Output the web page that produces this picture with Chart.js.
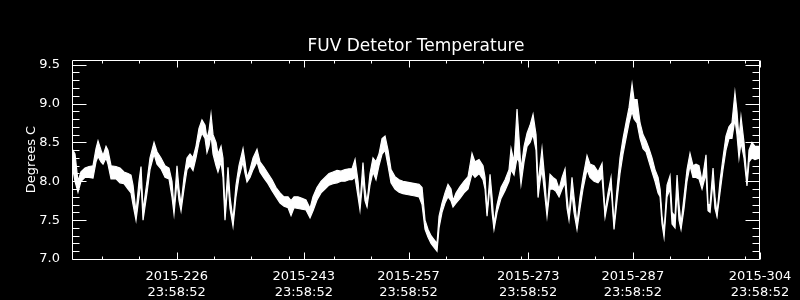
<!DOCTYPE html>
<html>
<head>
<meta charset="utf-8">
<script src="https://cdn.jsdelivr.net/npm/chart.js@4.4.1/dist/chart.umd.min.js"></script>
<style>
  html, body { margin: 0; padding: 0; background: #000; }
  #wrap { width: 800px; height: 300px; position: relative; }
</style>
</head>
<body>
<div id="wrap"><canvas id="fuv"></canvas></div>
<script>
// day of year 2015 (x), detector temperature envelope (deg C)
const days = [
  212.00, 212.40, 212.80, 213.20, 213.74, 214.27, 214.81, 215.21, 215.48, 215.88,
  216.15, 216.55, 216.81, 217.22, 217.88, 218.42, 218.95, 219.49, 219.89, 220.16,
  220.56, 220.96, 221.23, 221.50, 222.03, 222.43, 222.97, 223.37, 223.90, 224.44,
  224.97, 225.37, 225.64, 226.04, 226.31, 226.58, 226.98, 227.38, 227.78, 228.18,
  228.58, 228.98, 229.38, 229.79, 230.05, 230.32, 230.59, 230.86, 231.26, 231.52,
  231.93, 232.19, 232.46, 232.86, 233.13, 233.53, 233.93, 234.33, 234.87, 235.14,
  235.40, 235.80, 236.21, 236.74, 237.14, 237.68, 238.21, 238.75, 239.28, 239.82,
  240.35, 240.89, 241.29, 241.69, 242.22, 242.76, 243.29, 243.83, 244.23, 244.76,
  245.30, 245.83, 246.37, 246.90, 247.44, 247.97, 248.51, 249.04, 249.44, 249.85,
  250.25, 250.51, 250.91, 251.18, 251.45, 251.85, 252.25, 252.65, 253.05, 253.46,
  253.86, 254.26, 254.66, 255.19, 255.73, 256.26, 256.80, 257.33, 257.87, 258.41,
  258.81, 259.21, 259.61, 260.01, 260.41, 260.81, 261.08, 261.48, 261.88, 262.28,
  262.68, 262.95, 263.35, 263.89, 264.42, 264.96, 265.49, 265.89, 266.43, 266.96,
  267.23, 267.50, 267.90, 268.17, 268.43, 268.84, 269.37, 269.91, 270.44, 270.71,
  271.11, 271.51, 271.78, 272.04, 272.45, 272.85, 273.25, 273.65, 274.05, 274.32,
  274.59, 274.85, 275.25, 275.52, 275.92, 276.32, 276.72, 277.13, 277.53, 277.93,
  278.20, 278.46, 278.86, 279.13, 279.53, 279.93, 280.33, 280.87, 281.27, 281.81,
  282.34, 282.88, 283.28, 283.68, 284.08, 284.48, 284.88, 285.28, 285.68, 286.08,
  286.49, 286.89, 287.16, 287.56, 287.96, 288.36, 288.76, 289.16, 289.56, 289.96,
  290.37, 290.64, 290.90, 291.17, 291.57, 291.97, 292.24, 292.64, 292.91, 293.17,
  293.44, 293.84, 294.24, 294.64, 295.04, 295.44, 295.84, 296.25, 296.78, 297.05,
  297.32, 297.72, 297.98, 298.25, 298.65, 299.05, 299.45, 299.85, 300.25, 300.65,
  300.92, 301.19, 301.46, 301.86, 302.26, 302.53, 302.93, 303.33, 304.00
];
const tempHigh = [
  8.42, 8.35, 8.00, 8.12, 8.17, 8.19, 8.20, 8.42, 8.52, 8.40,
  8.33, 8.45, 8.40, 8.20, 8.19, 8.17, 8.12, 8.10, 8.08, 7.95,
  7.60, 8.00, 8.19, 7.62, 8.00, 8.30, 8.50, 8.38, 8.30, 8.20,
  8.17, 8.00, 7.65, 8.20, 7.90, 7.70, 8.05, 8.30, 8.35, 8.30,
  8.45, 8.68, 8.79, 8.72, 8.55, 8.65, 8.86, 8.60, 8.50, 8.35,
  8.45, 8.30, 7.60, 8.18, 7.80, 7.50, 7.95, 8.20, 8.42, 8.25,
  8.05, 8.15, 8.30, 8.41, 8.25, 8.18, 8.10, 8.02, 7.92, 7.85,
  7.80, 7.80, 7.75, 7.80, 7.80, 7.78, 7.76, 7.65, 7.80, 7.92,
  8.00, 8.05, 8.10, 8.12, 8.14, 8.13, 8.15, 8.16, 8.16, 8.28,
  8.00, 7.70, 8.24, 7.90, 7.72, 8.10, 8.30, 8.25, 8.35, 8.55,
  8.58, 8.40, 8.15, 8.06, 8.02, 8.00, 7.99, 7.98, 7.97, 7.96,
  7.92, 7.50, 7.38, 7.30, 7.25, 7.20, 7.55, 7.72, 7.85, 7.96,
  7.90, 7.75, 7.85, 7.93, 8.00, 8.06, 8.36, 8.25, 8.28, 8.20,
  8.05, 7.60, 8.09, 7.80, 7.45, 7.70, 7.92, 8.02, 8.15, 8.42,
  8.25, 8.93, 8.55, 8.15, 8.45, 8.62, 8.72, 8.86, 8.60, 7.95,
  8.20, 8.42, 8.00, 7.60, 8.09, 8.05, 8.02, 7.90, 8.05, 8.16,
  7.80, 7.55, 8.05, 7.80, 7.45, 7.80, 8.05, 8.33, 8.22, 8.20,
  8.12, 8.23, 7.60, 7.85, 8.05, 7.45, 7.90, 8.30, 8.55, 8.75,
  8.95, 9.25, 9.05, 9.05, 8.75, 8.60, 8.52, 8.42, 8.30, 8.15,
  8.05, 7.90, 7.55, 7.35, 7.95, 8.07, 7.60, 7.55, 8.08, 7.70,
  7.45, 7.80, 8.15, 8.36, 8.20, 8.22, 8.20, 8.00, 8.34, 7.70,
  7.70, 8.17, 7.80, 7.58, 8.00, 8.30, 8.58, 8.70, 8.75, 9.14,
  8.90, 8.55, 8.83, 8.50, 8.00, 8.40, 8.50, 8.45, 8.45
];
const tempLow = [
  8.22, 8.00, 7.86, 8.00, 8.05, 8.05, 8.04, 8.25, 8.32, 8.25,
  8.22, 8.30, 8.22, 8.03, 8.03, 7.98, 7.97, 7.90, 7.85, 7.70,
  7.50, 7.80, 8.00, 7.50, 7.85, 8.15, 8.35, 8.22, 8.16, 8.05,
  8.03, 7.80, 7.58, 8.00, 7.75, 7.62, 7.90, 8.15, 8.20, 8.14,
  8.30, 8.50, 8.62, 8.55, 8.37, 8.45, 8.60, 8.35, 8.20, 8.12,
  8.25, 8.05, 7.50, 8.00, 7.65, 7.42, 7.80, 8.05, 8.25, 8.10,
  7.99, 8.05, 8.15, 8.25, 8.12, 8.04, 7.97, 7.88, 7.80, 7.72,
  7.68, 7.66, 7.56, 7.66, 7.65, 7.64, 7.63, 7.53, 7.62, 7.76,
  7.85, 7.90, 7.95, 7.97, 7.98, 8.00, 8.00, 8.02, 8.02, 8.05,
  7.80, 7.63, 8.05, 7.75, 7.67, 7.95, 8.12, 8.02, 8.20, 8.35,
  8.40, 8.20, 7.98, 7.90, 7.86, 7.84, 7.83, 7.82, 7.81, 7.80,
  7.70, 7.38, 7.28, 7.20, 7.15, 7.10, 7.40, 7.60, 7.72, 7.80,
  7.75, 7.67, 7.72, 7.78, 7.85, 7.90, 8.10, 8.05, 8.10, 8.02,
  7.90, 7.55, 7.95, 7.60, 7.38, 7.60, 7.78, 7.88, 8.00, 8.15,
  8.08, 8.30, 8.25, 7.96, 8.25, 8.45, 8.50, 8.60, 8.40, 7.79,
  8.00, 8.15, 7.80, 7.55, 7.90, 7.90, 7.87, 7.80, 7.90, 7.98,
  7.65, 7.50, 7.85, 7.60, 7.38, 7.65, 7.90, 8.15, 8.05, 8.00,
  7.98, 8.05, 7.54, 7.75, 7.95, 7.38, 7.75, 8.10, 8.35, 8.55,
  8.75, 8.90, 8.80, 8.75, 8.55, 8.42, 8.38, 8.25, 8.12, 8.00,
  7.85, 7.80, 7.45, 7.28, 7.80, 7.90, 7.45, 7.40, 7.90, 7.50,
  7.38, 7.65, 8.00, 8.20, 8.05, 8.05, 8.03, 7.90, 8.10, 7.62,
  7.60, 8.00, 7.65, 7.55, 7.85, 8.15, 8.40, 8.55, 8.55, 8.80,
  8.60, 8.30, 8.50, 8.30, 7.94, 8.25, 8.30, 8.28, 8.30
];

// axis ticks
const tickDays = [226, 243, 257, 273, 287, 304];
const tickYear = '2015';
const tickTime = '23:58:52';
const minorDays = [216, 221, 226, 231, 236, 241, 247, 252, 257, 262, 267, 272, 277, 282, 287, 292, 297, 302];
const yMajor = [7.0, 7.5, 8.0, 8.5, 9.0, 9.5];
const yMinor = [7.1, 7.2, 7.3, 7.4, 7.6, 7.7, 7.8, 7.9, 8.1, 8.2, 8.3, 8.4, 8.6, 8.7, 8.8, 8.9, 9.1, 9.2, 9.3, 9.4];

const hiPts = days.map((d, i) => ({ x: d, y: tempHigh[i] }));
const loPts = days.map((d, i) => ({ x: d, y: tempLow[i] }));

Chart.defaults.font.family = '"DejaVu Sans", sans-serif';
Chart.defaults.color = '#ffffff';

// IDL style box with inward ticks on all four sides
const boxTicks = {
  id: 'boxTicks',
  afterDraw(chart) {
    const { ctx, chartArea: a, scales: { x, y } } = chart;
    ctx.save();
    ctx.strokeStyle = '#fff';
    ctx.lineWidth = 1;
    ctx.beginPath();
    const L = a.left + 0.5, R = a.right - 0.5, T = a.top + 0.5, B = a.bottom + 0.5;
    ctx.rect(L, T, R - L, B - T);
    const hTick = (v, len) => {
      const py = Math.round(y.getPixelForValue(v)) + 0.5;
      ctx.moveTo(L, py); ctx.lineTo(L + len, py);
      ctx.moveTo(R, py); ctx.lineTo(R - len, py);
    };
    const vTick = (v, len) => {
      const px = Math.round(x.getPixelForValue(v)) + 0.5;
      ctx.moveTo(px, B); ctx.lineTo(px, B - len);
      ctx.moveTo(px, T); ctx.lineTo(px, T + len);
    };
    yMajor.forEach(v => hTick(v, 14));
    yMinor.forEach(v => hTick(v, 7));
    tickDays.forEach(v => vTick(v, 7));
    minorDays.forEach(v => vTick(v, 3));
    ctx.stroke();
    ctx.restore();
  }
};

new Chart(document.getElementById('fuv'), {
  type: 'line',
  data: {
    datasets: [
      {
        data: hiPts,
        borderColor: '#fff',
        borderWidth: 1.2,
        pointRadius: 0,
        tension: 0,
        fill: false
      },
      {
        data: loPts,
        borderColor: '#fff',
        borderWidth: 1.2,
        backgroundColor: '#fff',
        pointRadius: 0,
        tension: 0,
        fill: '-1'
      }
    ]
  },
  options: {
    responsive: true,
    maintainAspectRatio: false,
    animation: false,
    layout: { padding: { left: 0, right: 40, top: 0, bottom: 0 } },
    plugins: {
      legend: { display: false },
      tooltip: { enabled: false },
      title: {
        display: true,
        text: 'FUV Detetor Temperature',
        color: '#fff',
        fullSize: false,
        font: { size: 17, weight: 'normal', family: '"DejaVu Sans", sans-serif', lineHeight: 1.2 },
        padding: { top: 36.6, bottom: 3 }
      }
    },
    scales: {
      x: {
        type: 'linear',
        min: 212,
        max: 304,
        grid: { display: false },
        border: { display: false },
        afterBuildTicks: s => { s.ticks = tickDays.map(v => ({ value: v })); },
        afterFit: s => { s.height = 41; },
        ticks: {
          autoSkip: false,
          maxRotation: 0,
          padding: 1,
          font: { size: 13, lineHeight: 1.25 },
          callback: v => [tickYear + '-' + v, tickTime]
        }
      },
      y: {
        min: 7.0,
        max: 9.56,
        grid: { display: false },
        border: { display: false },
        afterBuildTicks: s => { s.ticks = yMajor.map(v => ({ value: v })); },
        afterFit: s => { s.width = 72; },
        ticks: {
          padding: 4,
          font: { size: 13 },
          callback: v => Number(v).toFixed(1)
        },
        title: {
          display: true,
          text: 'Degrees C',
          color: '#fff',
          font: { size: 13, lineHeight: 1.2 },
          padding: { top: 24, bottom: 0 }
        }
      }
    }
  },
  plugins: [boxTicks]
});
</script>
</body>
</html>
